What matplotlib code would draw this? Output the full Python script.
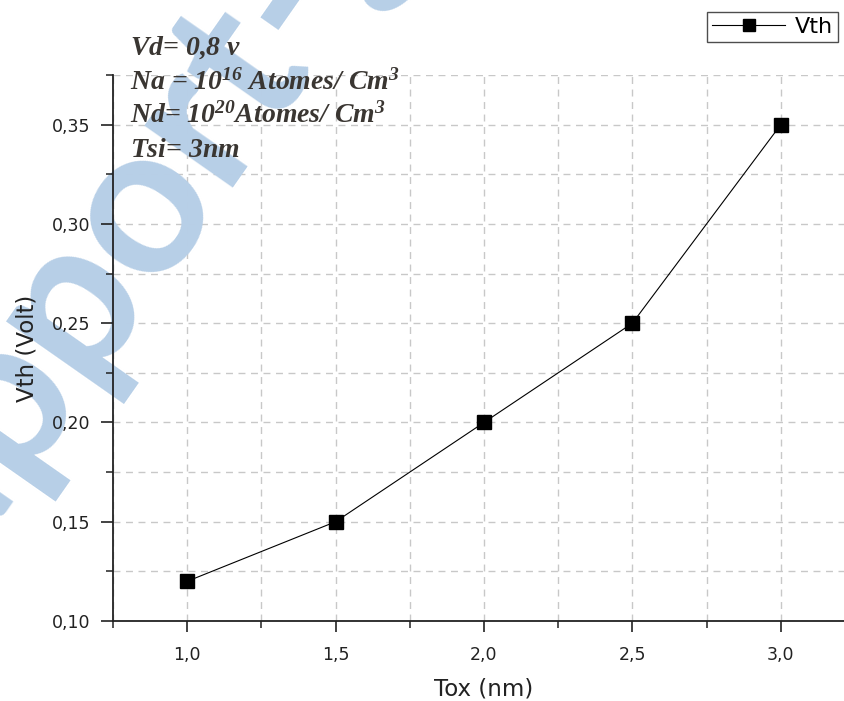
import numpy as np
import matplotlib
matplotlib.use("Agg")
import matplotlib.pyplot as plt
from matplotlib.ticker import MultipleLocator, FuncFormatter
from matplotlib.font_manager import FontProperties
from matplotlib.textpath import TextToPath

# Threshold voltage versus oxide thickness
tox = [1.0, 1.5, 2.0, 2.5, 3.0]
vth = [0.12, 0.15, 0.20, 0.25, 0.35]

x_label = "Tox (nm)"
y_label = "Vth (Volt)"
series_label = "Vth"
params = [
    r"$\text{Vd= 0,8 v}$",
    r"$\text{Na = 10}^{\text{16}}\text{ Atomes/ Cm}^{\text{3}}$",
    r"$\text{Nd= 10}^{\text{20}}\text{Atomes/ Cm}^{\text{3}}$",
    r"$\text{Tsi= 3nm}$",
]
watermark = "Rapport-gratuit"

plt.rcParams["font.family"] = ["DejaVu Sans"]
plt.rcParams["mathtext.fontset"] = "custom"
for key in ("rm", "it", "bf", "sf"):
    plt.rcParams["mathtext." + key] = "Liberation Serif:italic:bold"
plt.rcParams["mathtext.default"] = "it"

W, H = 845, 701
fig = plt.figure(figsize=(W / 100, H / 100), dpi=100)
fig.patch.set_facecolor("white")

left, bottom, top, right = 113, 621, 75, 855
rect = [left / W, 1 - bottom / H, (right - left) / W, (bottom - top) / H]
xlim = (0.75, 3.25)
ylim = (0.10, 0.375)

# background axes carrying only the dashed grid
bg = fig.add_axes(rect, zorder=0)
bg.set_xlim(*xlim)
bg.set_ylim(*ylim)
bg.xaxis.set_major_locator(MultipleLocator(0.25))
bg.yaxis.set_major_locator(MultipleLocator(0.025))
bg.grid(True, color="#c8c8c8", linestyle=(0, (5, 4)), linewidth=1.0)
bg.tick_params(left=False, bottom=False, labelleft=False, labelbottom=False)
for s in bg.spines.values():
    s.set_visible(False)

# watermark between grid and foreground; anchored on the second "p"
wm_prop = FontProperties(family="Lato", weight="bold", size=151)
wm_angle = 55.0
px_per_pt = 100 / 72
prefix_w, _, _ = TextToPath().get_text_width_height_descent("Rap", wm_prop, ismath=False)
prefix_w *= px_per_pt
u = np.array([np.cos(np.radians(wm_angle)), np.sin(np.radians(wm_angle))])
p2_origin = np.array([82.0, 321.0])
origin = p2_origin - prefix_w * u
fig.text(origin[0] / W, origin[1] / H, watermark, rotation=wm_angle,
         rotation_mode="anchor", ha="left", va="baseline",
         fontproperties=wm_prop, color="#b7cfe7", zorder=0.5)

ax = fig.add_axes(rect, zorder=1)
ax.patch.set_alpha(0)
ax.set_xlim(*xlim)
ax.set_ylim(*ylim)
ax.plot(tox, vth, color="black", linewidth=0.8, marker="s", markersize=10,
        markerfacecolor="black", markeredgecolor="black", label=series_label)

ax.xaxis.set_minor_locator(MultipleLocator(0.25))
ax.yaxis.set_minor_locator(MultipleLocator(0.025))
ax.xaxis.set_major_formatter(FuncFormatter(lambda v, p: f"{v:.1f}".replace(".", ",")))
ax.yaxis.set_major_formatter(FuncFormatter(lambda v, p: f"{v:.2f}".replace(".", ",")))
ax.set_yticks([0.10, 0.15, 0.20, 0.25, 0.30, 0.35])
ax.set_xticks([1.0, 1.5, 2.0, 2.5, 3.0])

for side in ("top", "right"):
    ax.spines[side].set_visible(False)
for side in ("left", "bottom"):
    ax.spines[side].set_color("#222222")
    ax.spines[side].set_linewidth(1.3)

ax.tick_params(which="major", direction="out", length=9, width=1.2,
               color="#222222", labelsize=12.5, labelcolor="#222222")
ax.tick_params(axis="x", which="major", length=8, pad=10)
ax.tick_params(axis="y", which="major", pad=7)
ax.tick_params(which="minor", direction="out", length=5, width=1.1,
               color="#222222")

ax.set_xlabel(x_label, fontsize=16.5, color="#222222", labelpad=10)
ax.set_ylabel(y_label, fontsize=16.5, color="#222222", labelpad=10)

# simulation parameters
baselines = [55, 90, 123, 157]
for yb, line in zip(baselines, params):
    fig.text(130 / W, 1 - yb / H, line, fontsize=20,
             color="#3a3632", ha="left", va="baseline", zorder=3)

leg = fig.legend(loc="upper left", bbox_to_anchor=(707 / W, 1 - 12 / H),
                 borderaxespad=0, fancybox=False, frameon=True,
                 edgecolor="#222222", fontsize=16, handlelength=3.3,
                 handletextpad=0.45, borderpad=0.22, numpoints=1,
                 markerscale=0.9)
leg.get_frame().set_linewidth(1.0)
leg.set_zorder(4)

fig.savefig("out.png", dpi=100)
